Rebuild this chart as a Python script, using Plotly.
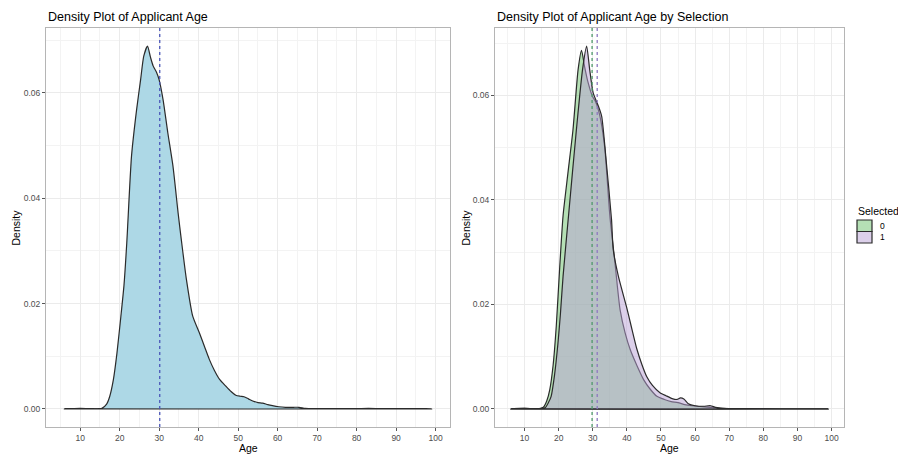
import plotly.graph_objects as go

# ---------------- data ----------------
age_all = [6, 8, 10, 12, 14, 15.5, 16.7, 17.5, 18.4, 19.3, 20.3, 21.1, 21.8, 23.0, 24.3, 25.3,
           26.1, 27.05, 27.8, 28.5, 29.3, 30.0, 31.0, 32.2, 33.5, 34.8, 35.6, 36.9, 38.5, 40.2,
           41.5, 42.7, 44.0, 45.3, 46.9, 48.2, 49.4, 50.5, 51.5, 52.6, 53.7, 55.0, 56.2, 57.5,
           58.7, 60.3, 62, 64, 65.4, 67, 70, 75, 80, 83, 86, 90, 95, 99]
dens_all = [0, 0.00005, 0.0001, 0.00005, 0, 0.0001, 0.0009, 0.0024, 0.0055, 0.0105, 0.0175,
            0.0235, 0.0315, 0.048, 0.0569, 0.0625, 0.067, 0.0689, 0.0668, 0.0651, 0.064, 0.0625,
            0.0587, 0.0524, 0.0461, 0.0372, 0.0322, 0.0246, 0.0176, 0.0144, 0.0118, 0.0094,
            0.0073, 0.0056, 0.0043, 0.0033, 0.0026, 0.0024, 0.0023, 0.0019, 0.0015, 0.0012,
            0.0011, 0.0008, 0.0006, 0.0004, 0.0003, 0.0003, 0.0003, 0.0001, 0.00005, 0.00003,
            0.00005, 0.0001, 0.00005, 0.00003, 0.00003, 0]

age_sel0 = [6, 10, 14, 15.5, 16.5, 17.4, 18.4, 19.3, 20.3, 21.3, 22.7, 24.2, 25.7, 26.7, 27.6,
            28.6, 29.9, 30.8, 32.1, 33.5, 35.0, 36.5, 38.0, 39.5, 41.0, 43.0, 44.9, 46.8, 48.8,
            51, 53, 55, 57, 59, 62, 65, 68, 72, 80, 90, 99]
dens_sel0 = [0, 0.0001, 0, 0.0003, 0.0015, 0.0037, 0.0085, 0.0158, 0.027, 0.037, 0.045,
             0.0534, 0.0649, 0.0686, 0.0655, 0.0625, 0.0598, 0.0588, 0.0560, 0.0500, 0.0370,
             0.0280, 0.0190, 0.0145, 0.0113, 0.0082, 0.0056, 0.0038, 0.0024, 0.0018, 0.0014,
             0.0012, 0.0008, 0.0006, 0.0004, 0.0003, 0.0001, 0.00005, 0.00003, 0.00002, 0]

age_sel1 = [6, 10, 14, 16, 17.0, 17.8, 18.8, 19.8, 20.5, 21.3, 22.9, 25.2, 27.0, 28.2, 29.1,
            30.1, 31.6, 32.6, 34.0, 35.5, 36.0, 37.5, 39.9, 41.2, 42.9, 44.4, 45.8, 47.5, 49.7,
            51.5, 53.5, 54.7, 55.7, 56.7, 58.0, 60, 62.5, 64.5, 66, 68, 75, 85, 99]
dens_sel1 = [0, 0.0001, 0, 0.0002, 0.0012, 0.0024, 0.0065, 0.0126, 0.018, 0.0254, 0.037,
             0.0534, 0.0649, 0.0694, 0.0649, 0.0605, 0.058, 0.056, 0.047, 0.0362, 0.0305,
             0.0254, 0.0195, 0.016, 0.0115, 0.0085, 0.0062, 0.0045, 0.0031, 0.0025, 0.0019,
             0.0018, 0.0021, 0.0019, 0.001, 0.0006, 0.0005, 0.0006, 0.0003, 0.0001, 0.00003,
             0.00002, 0]

mean_all = 30.15
mean_sel0 = 29.8
mean_sel1 = 31.3

group_labels = ["0", "1"]
legend_title = "Selected"
x_tick_vals = [10, 20, 30, 40, 50, 60, 70, 80, 90, 100]
y_tick_vals = [0, 0.02, 0.04, 0.06]
y_tick_text = ["0.00", "0.02", "0.04", "0.06"]

# ---------------- styling ----------------
FONT = "Liberation Sans, Arial, sans-serif"
OUTLINE = "#2b2b2b"
FILL_ALL = "#ADD8E6"
FILL_0 = "rgba(107,193,107,0.5)"
FILL_1 = "rgba(185,161,213,0.5)"
VCOL_ALL = "#4a55b8"
VCOL_0 = "#4f9a6a"
VCOL_1 = "#8e78c0"
GRID = "#ebebeb"
BORDER = "#b5b5b5"

W, H = 898, 454
ML, MR, MT, MB = 46, 54, 28, 27
PW, PH = W - ML - MR, H - MT - MB


def px_x(p):  # page pixel -> paper x
    return (p - ML) / PW


def px_y(p):  # page pixel -> paper y
    return (H - MB - p) / PH


def closed(xs, ys):
    return list(xs) + [xs[0]], list(ys) + [ys[0]]


fig = go.Figure()

xa, ya = closed(age_all, dens_all)
fig.add_trace(go.Scatter(x=xa, y=ya, mode="lines", fill="toself", fillcolor=FILL_ALL,
                         line=dict(color=OUTLINE, width=1.2, shape="spline", smoothing=0.6),
                         xaxis="x", yaxis="y", showlegend=False, hoverinfo="skip"))

fills = [FILL_0, FILL_1]
for ages, dens, col, name in [(age_sel0, dens_sel0, FILL_0, group_labels[0]),
                              (age_sel1, dens_sel1, FILL_1, group_labels[1])]:
    xs, ys = closed(ages, dens)
    fig.add_trace(go.Scatter(x=xs, y=ys, mode="lines", fill="toself", fillcolor=col,
                             line=dict(color=OUTLINE, width=1.2, shape="spline", smoothing=0.6),
                             xaxis="x2", yaxis="y2", name=name, showlegend=False,
                             hoverinfo="skip"))

# mean lines
for xref, yref, m, c in [("x", "y domain", mean_all, VCOL_ALL),
                         ("x2", "y2 domain", mean_sel0, VCOL_0),
                         ("x2", "y2 domain", mean_sel1, VCOL_1)]:
    fig.add_shape(type="line", xref=xref, yref=yref, x0=m, x1=m, y0=0, y1=1,
                  line=dict(color=c, width=1.3, dash="3px,3px"))

ymax_all = max(dens_all)
ymax_sel = max(max(dens_sel0), max(dens_sel1))
xmin = min(age_all)
xmax = max(age_all)
xpad = (xmax - xmin) * 0.05

common_x = dict(range=[xmin - xpad, xmax + xpad], tickvals=x_tick_vals,
                ticks="outside", ticklen=3, tickcolor="#555555", tickwidth=1,
                showgrid=True, gridcolor=GRID, gridwidth=1,
                minor=dict(dtick=5, tick0=0, showgrid=True, gridcolor="#f3f3f3", gridwidth=1),
                showline=True, mirror=True, linecolor=BORDER, linewidth=1,
                zeroline=False, tickfont=dict(family=FONT, size=8.5, color="#4d4d4d"))
common_y = dict(tickvals=y_tick_vals, ticktext=y_tick_text,
                ticks="outside", ticklen=3, tickcolor="#555555", tickwidth=1,
                showgrid=True, gridcolor=GRID, gridwidth=1,
                minor=dict(dtick=0.01, tick0=0, showgrid=True, gridcolor="#f3f3f3", gridwidth=1),
                showline=True, mirror=True, linecolor=BORDER, linewidth=1,
                zeroline=False, tickfont=dict(family=FONT, size=8.5, color="#4d4d4d"))

fig.update_layout(
    width=W, height=H,
    margin=dict(l=ML, r=MR, t=MT, b=MB),
    paper_bgcolor="white", plot_bgcolor="white",
    font=dict(family=FONT, color="black"),
    xaxis=dict(domain=[0, 0.5063], anchor="y", **common_x),
    yaxis=dict(domain=[0, 1], anchor="x",
               range=[-ymax_all * 0.05, ymax_all * 1.05], **common_y),
    xaxis2=dict(domain=[0.5627, 1], anchor="y2", **common_x),
    yaxis2=dict(domain=[0, 1], anchor="x2",
                range=[-ymax_sel * 0.05, ymax_sel * 1.05], **common_y),
    showlegend=False,
)

annots = [
    dict(text="Density Plot of Applicant Age", xref="x domain", yref="y domain",
         x=0, y=1, xanchor="left", yanchor="bottom", yshift=2, size=12.5),
    dict(text="Density Plot of Applicant Age by Selection", xref="x2 domain", yref="y2 domain",
         x=0, y=1, xanchor="left", yanchor="bottom", yshift=2, size=12.5),
    dict(text="Age", xref="x domain", yref="y domain", x=0.5, y=0,
         xanchor="center", yanchor="middle", yshift=-21, size=10.5),
    dict(text="Age", xref="x2 domain", yref="y2 domain", x=0.5, y=0,
         xanchor="center", yanchor="middle", yshift=-21, size=10.5),
]
for a in annots:
    size = a.pop("size")
    fig.add_annotation(showarrow=False, font=dict(family=FONT, size=size, color="black"), **a)

for xr, yr, shift in [("x domain", "y domain", -31), ("x2 domain", "y2 domain", -30)]:
    fig.add_annotation(text="Density", xref=xr, yref=yr, x=0, y=0.5, xanchor="center",
                       yanchor="middle", xshift=shift, textangle=-90, showarrow=False,
                       font=dict(family=FONT, size=10.5, color="black"))

# legend (ggplot-style keys)
fig.add_annotation(text=legend_title, xref="paper", yref="paper", x=px_x(856), y=px_y(211),
                   xanchor="left", yanchor="middle", showarrow=False,
                   font=dict(family=FONT, size=10.5, color="black"))
key_top = 220
key_h = 11.5
for i, (lab, col) in enumerate(zip(group_labels, fills)):
    y0 = key_top + i * key_h
    fig.add_shape(type="rect", xref="paper", yref="paper",
                  x0=px_x(857), x1=px_x(872), y0=px_y(y0), y1=px_y(y0 + key_h),
                  fillcolor=col, line=dict(color=OUTLINE, width=1.2))
    fig.add_annotation(text=lab, xref="paper", yref="paper", x=px_x(878),
                       y=px_y(y0 + key_h / 2), xanchor="left", yanchor="middle",
                       showarrow=False, font=dict(family=FONT, size=8.5, color="black"))

fig.write_html("out.html", config={"displayModeBar": False},
               post_script="document.body.style.margin='0';document.documentElement.style.overflow='hidden';")
